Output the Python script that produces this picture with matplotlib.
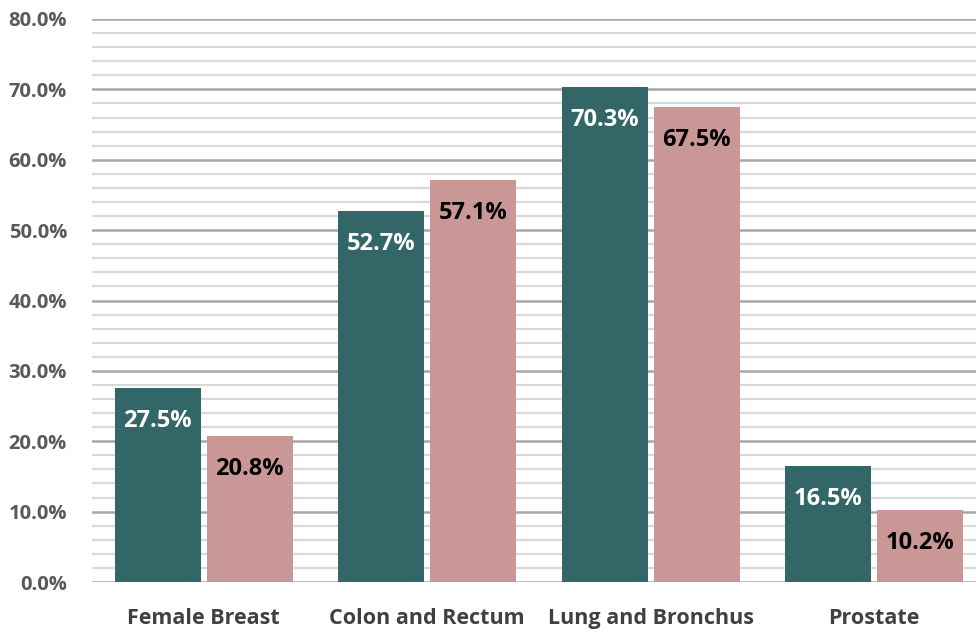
import matplotlib
matplotlib.use("Agg")
import matplotlib.pyplot as plt
import numpy as np
from matplotlib.ticker import MultipleLocator, FuncFormatter

CATEGORIES = ["Female Breast", "Colon and Rectum", "Lung and Bronchus", "Prostate"]
SERIES_A = [27.5, 52.7, 70.3, 16.5]
SERIES_B = [20.8, 57.1, 67.5, 10.2]

TEAL = "#336666"
PINK = "#c99795"

plt.rcParams["font.family"] = ["Open Sans", "DejaVu Sans"]

fig = plt.figure(figsize=(9.76, 6.32), dpi=100)
ax = fig.add_axes([92 / 976, 50 / 632, 884 / 976, 563 / 632])

x = np.arange(len(CATEGORIES))
w = 0.385
off = 0.206
bars_a = ax.bar(x - off, SERIES_A, w, color=TEAL, zorder=3)
bars_b = ax.bar(x + off, SERIES_B, w, color=PINK, zorder=3)

for bars, vals, col in [(bars_a, SERIES_A, "white"), (bars_b, SERIES_B, "black")]:
    for b, v in zip(bars, vals):
        ax.annotate(f"{v:.1f}%", (b.get_x() + b.get_width() / 2, v),
                    xytext=(0, -33), textcoords="offset pixels",
                    ha="center", va="center", color=col,
                    fontsize=17, fontweight="bold", zorder=4)

ax.set_ylim(0, 80)
ax.set_xlim(-0.5, 3.5 - 10 / 223.5)
ax.yaxis.set_major_locator(MultipleLocator(10))
ax.yaxis.set_minor_locator(MultipleLocator(2))
ax.yaxis.set_major_formatter(FuncFormatter(lambda v, p: f"{v:.1f}%"))
ax.grid(axis="y", which="minor", color="#d9d9d9", linewidth=1.6, zorder=0)
ax.grid(axis="y", which="major", color="#a6a6a6", linewidth=1.8, zorder=1)
ax.set_axisbelow(True)

for s in ax.spines.values():
    s.set_visible(False)
ax.tick_params(axis="y", which="both", length=0, pad=18, labelsize=14.5,
               labelcolor="#595959")
ax.tick_params(axis="x", length=0, pad=19, labelsize=15.5, labelcolor="#404040")
for lab in ax.get_yticklabels() + ax.get_xticklabels():
    lab.set_fontweight("bold")
ax.set_xticks(x)
ax.set_xticklabels(CATEGORIES, fontweight="bold")

fig.savefig("out.png", dpi=100)
